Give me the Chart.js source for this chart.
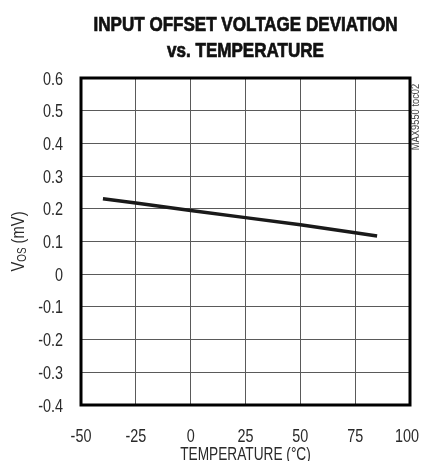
<!DOCTYPE html>
<html>
<head>
<meta charset="utf-8">
<script src="https://cdn.jsdelivr.net/npm/chart.js@4/dist/chart.umd.min.js"></script>
<style>
  html, body { margin: 0; padding: 0; background: #fff; }
  #wrap { width: 422px; height: 461px; }
</style>
</head>
<body>
<div id="wrap"><canvas id="chart" width="422" height="461"></canvas></div>
<script>
// temperature (°C) and offset voltage deviation (mV)
const temps = [-40, -25, 0, 25, 50, 75, 85];
const vos = [0.231, 0.218, 0.195, 0.173, 0.151, 0.127, 0.117];

const xMin = -50, xMax = 100, xStep = 25;
const yMin = -0.4, yMax = 0.6, yStep = 0.1;

const titleLines = ['INPUT OFFSET VOLTAGE DEVIATION', 'vs. TEMPERATURE'];
const xTitle = 'TEMPERATURE (°C)';
const sideNote = 'MAX9550 toc02';

const FONT = "'Liberation Sans', Arial, sans-serif";
const SQUEEZE = 0.8; // fake a condensed face

// draw text squeezed horizontally
function narrowText(ctx, text, x, y, squeeze, stroke) {
  ctx.save();
  ctx.translate(x, y);
  ctx.scale(squeeze, 1);
  ctx.fillText(text, 0, 0);
  if (stroke) ctx.strokeText(text, 0, 0);
  ctx.restore();
}

function yLabel(v) {
  return Math.abs(v) < 1e-9 ? '0' : v.toFixed(1);
}

// frame, tick labels, titles, side note
const decorPlugin = {
  id: 'decor',
  afterDraw(c) {
    const ctx = c.ctx;
    const a = c.chartArea;
    const cx = (a.left + a.right) / 2;
    ctx.save();

    ctx.strokeStyle = '#000';
    ctx.lineWidth = 3;
    ctx.strokeRect(a.left, a.top, a.right - a.left, a.bottom - a.top);

    // tick labels, placed from the chart's own scales
    ctx.fillStyle = '#2a2a2a';
    ctx.font = '18px ' + FONT;
    ctx.textBaseline = 'alphabetic';
    const xs = c.scales.x, ys = c.scales.y;
    ctx.textAlign = 'center';
    xs.ticks.forEach(t => {
      const w = ctx.measureText(String(t.value)).width * SQUEEZE;
      const px = Math.min(xs.getPixelForValue(t.value), 419 - w / 2);
      narrowText(ctx, String(t.value), px, a.bottom + 37, SQUEEZE);
    });
    ctx.textAlign = 'right';
    ys.ticks.forEach(t => {
      narrowText(ctx, yLabel(t.value), a.left - 18, ys.getPixelForValue(t.value) + 6.5, SQUEEZE);
    });

    // chart title
    ctx.fillStyle = '#111';
    ctx.strokeStyle = '#111';
    ctx.lineWidth = 0.7;
    ctx.textAlign = 'center';
    ctx.font = 'bold 20px ' + FONT;
    const sq = 304 / ctx.measureText(titleLines[0]).width;
    narrowText(ctx, titleLines[0], cx, 31, sq, true);
    narrowText(ctx, titleLines[1], cx, 57, sq, true);

    // x title
    ctx.fillStyle = '#2a2a2a';
    ctx.font = '18px ' + FONT;
    narrowText(ctx, xTitle, cx, 460, 0.76);

    // y label: V with OS subscript, rotated
    ctx.save();
    ctx.translate(24, (a.top + a.bottom) / 2);
    ctx.rotate(-Math.PI / 2);
    ctx.scale(0.82, 1);
    ctx.textAlign = 'left';
    const big = '18px ' + FONT, small = '12px ' + FONT;
    ctx.font = big;
    const wV = ctx.measureText('V').width;
    const wRest = ctx.measureText(' (mV)').width;
    ctx.font = small;
    const wSub = ctx.measureText('OS').width;
    let x = -(wV + wSub + wRest) / 2;
    ctx.font = big;
    ctx.fillText('V', x, 0);
    x += wV;
    ctx.font = small;
    ctx.fillText('OS', x, 2);
    x += wSub;
    ctx.font = big;
    ctx.fillText(' (mV)', x, 0);
    ctx.restore();

    // side note
    ctx.save();
    ctx.translate(416, 117);
    ctx.rotate(-Math.PI / 2);
    ctx.fillStyle = '#444';
    ctx.textAlign = 'center';
    ctx.textBaseline = 'middle';
    ctx.font = '11px ' + FONT;
    narrowText(ctx, sideNote, 0, 0, 0.85);
    ctx.restore();

    ctx.restore();
  }
};

new Chart(document.getElementById('chart'), {
  type: 'line',
  data: {
    datasets: [{
      data: temps.map((t, i) => ({ x: t, y: vos[i] })),
      borderColor: '#1a1a1a',
      borderWidth: 3.5,
      pointRadius: 0,
      tension: 0,
      fill: false,
    }],
  },
  options: {
    responsive: false,
    animation: false,
    layout: { padding: { left: 0, top: 78, right: 12, bottom: 0 } },
    plugins: {
      legend: { display: false },
      tooltip: { enabled: false },
    },
    scales: {
      x: {
        type: 'linear',
        min: xMin,
        max: xMax,
        afterFit(s) {
          s.height = 56;
          s.paddingLeft = 0;
          s.paddingRight = 0;
        },
        ticks: { stepSize: xStep, display: false },
        grid: { color: '#5a5a5a', lineWidth: 1, drawTicks: false },
        border: { display: false },
      },
      y: {
        type: 'linear',
        min: yMin,
        max: yMax,
        afterFit(s) {
          s.width = 81;
          s.paddingTop = 0;
          s.paddingBottom = 0;
        },
        ticks: { stepSize: yStep, display: false },
        grid: { color: '#5a5a5a', lineWidth: 1, drawTicks: false },
        border: { display: false },
      },
    },
  },
  plugins: [decorPlugin],
});
</script>
</body>
</html>
